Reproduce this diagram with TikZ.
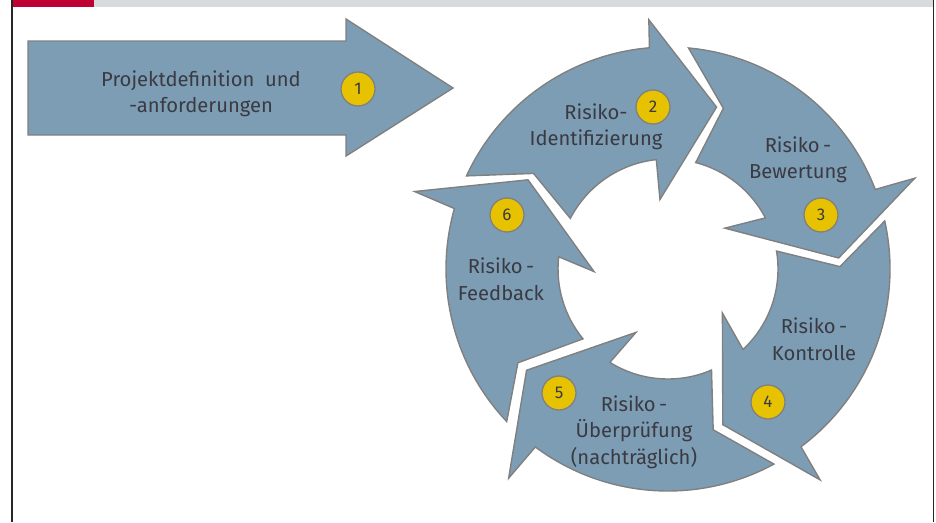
\documentclass[tikz,border=0pt]{standalone}
\usepackage{fontspec}
\setmainfont{Fira Sans}

\definecolor{arrowblue}{RGB}{125,157,181}
\definecolor{arrowline}{RGB}{128,128,128}
\definecolor{badgeyellow}{RGB}{230,194,0}
\definecolor{textgrey}{RGB}{58,58,66}
\definecolor{barred}{RGB}{190,0,50}
\definecolor{bargrey}{RGB}{217,218,220}

\tikzset{
  blockarrow/.style={fill=arrowblue, draw=arrowline, line width=1.4pt, line join=miter},
  badge/.style={circle, fill=badgeyellow, draw=arrowline, line width=1.3pt,
    minimum size=34pt, inner sep=0pt, text=textgrey, font=\fontsize{17}{17}\selectfont},
  steplabel/.style={align=center, text=textgrey, font=\fontsize{20.2}{26.5}\selectfont},
}

\begin{document}
\begin{tikzpicture}[x=1pt,y=1pt]
        \useasboundingbox (0,0) rectangle (936,-522);
        %% title bar and frame
        \fill[bargrey] (94,0) rectangle (933,-7);
        \fill[barred] (12,0) rectangle (94,-7);
        \draw[black!85,line width=1.3pt] (12,0) -- (12,-522);
        \draw[black!85,line width=1.6pt] (933.5,0) -- (933.5,-522);
        %% step 1: straight arrow
        \draw[blockarrow] (28,-41) -- (346,-41) -- (346,-19) -- (453,-88)
            -- (346,-156) -- (346,-135) -- (28,-135) -- cycle;
        \node[steplabel] (projekt) at (201,-94) {Projektdefinition\ \ und\\-anforderungen};
        %% steps 2 to 6: ring of curved arrows
        \begin{scope}[shift={(668,-269)}]
            % identifizierung
            \draw[blockarrow] (155.2:222) arc[start angle=155.2,end angle=94.8,radius=222]
                -- (94.4:250) -- (73.3:169) -- (96.6:70) -- (96.1:110)
                arc[start angle=96.1,end angle=152.6,radius=110] -- (144.6:165) -- cycle;
            % bewertung
            \draw[blockarrow] (84.7:222) arc[start angle=84.7,end angle=21,radius=222]
                -- (20.2:263) -- (3.7:171) -- (35.7:70) -- (27.7:110)
                arc[start angle=27.7,end angle=75.4,radius=110] -- (71:170) -- cycle;
            % kontrolle
            \draw[blockarrow] (12.5:222) arc[start angle=12.5,end angle=-53.2,radius=222]
                -- (-54.2:260) -- (-70.6:165) -- (-39:70) -- (-47:110)
                arc[start angle=-47,end angle=9.4,radius=110] -- (0.8:172) -- cycle;
            % ueberpruefung
            \draw[blockarrow] (298.5:222) arc[start angle=298.5,end angle=233.3,radius=222]
                -- (232.7:263) -- (215.6:174) -- (243.2:71) -- (238.1:110)
                arc[start angle=238.1,end angle=293.3,radius=110] -- (285.7:167) -- cycle;
            % feedback
            \draw[blockarrow] (223.4:222) arc[start angle=223.4,end angle=164.2,radius=222]
                -- (163:265) -- (147.5:166) -- (182:74) -- (173.6:110)
                arc[start angle=173.6,end angle=219.4,radius=110] -- (212:177) -- cycle;
        \end{scope}
        %% labels
        \node[steplabel] (ident) at (596,-127) {Risiko-\\Identifizierung};
        \node[steplabel] (bewert) at (798,-160) {Risiko\,-\\Bewertung};
        \node[steplabel] (kontr) at (814,-339) {Risiko\,-\\Kontrolle};
        \node[steplabel] (pruef) at (634,-432) {Risiko\,-\\Überprüfung\\(nachträglich)};
        \node[steplabel] (feedb) at (501,-279) {Risiko\,-\\Feedback};
        %% numbers
        \node[badge] (n1) at (358,-89) {1};
        \node[badge] (n2) at (653,-107) {2};
        \node[badge] (n3) at (821,-215) {3};
        \node[badge] (n4) at (768,-402) {4};
        \node[badge] (n5) at (559,-393) {5};
        \node[badge] (n6) at (507,-215) {6};
    \end{tikzpicture}
\end{document}
